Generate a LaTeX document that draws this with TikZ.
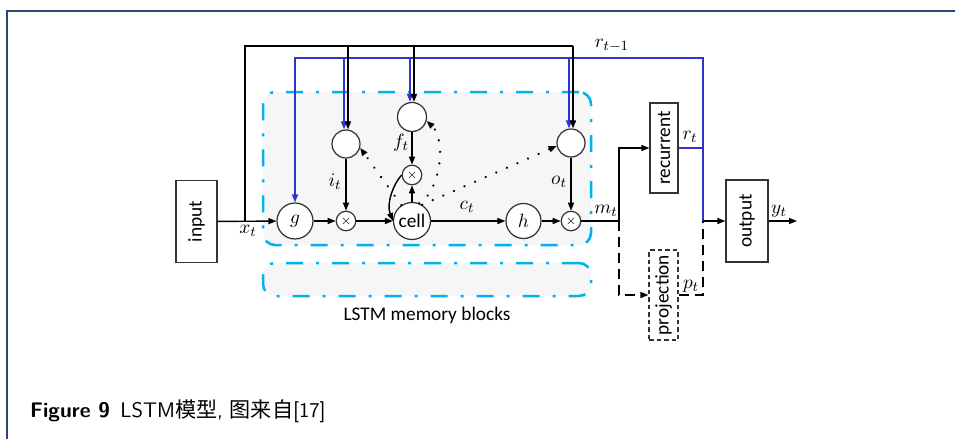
\documentclass[tikz,border=0pt]{standalone}
\usepackage{fontspec}
\usepackage{graphicx}
\usetikzlibrary{arrows.meta,positioning,calc}
\newfontfamily\cjk{Noto Sans CJK SC}
\newfontfamily\carlito{Carlito}
\definecolor{blockcyan}{RGB}{0,176,240}
\definecolor{blockgray}{RGB}{246,246,246}
\definecolor{feedblue}{RGB}{51,51,204}
\definecolor{frameblue}{RGB}{40,70,120}

\begin{document}
\begin{tikzpicture}[x=0.2mm,y=-0.2mm,
  every node/.style={font=\carlito\fontsize{11}{13}\selectfont},
  unit/.style={circle,draw=black!80,fill=white,line width=0.7pt,minimum size=7.2mm,inner sep=0pt},
  gate/.style={circle,draw=black!80,fill=white,line width=0.7pt,minimum size=5.6mm,inner sep=0pt},
  mult/.style={circle,draw=black!80,fill=white,line width=0.7pt,minimum size=3.9mm,inner sep=0pt,
               font=\scriptsize},
  layer/.style={rectangle,draw=black!80,fill=white,line width=0.7pt,minimum width=8.2mm,
                minimum height=16.4mm,inner sep=0pt},
  thin_layer/.style={layer,minimum width=5.6mm,minimum height=18mm},
  block/.style={rectangle,rounded corners=2.4mm,draw=blockcyan,fill=blockgray,line width=0.5mm,
                dash pattern=on 3.4mm off 2.6mm on 0.6mm off 2.6mm,minimum width=65.6mm},
  arrow/.style={-{Triangle[length=1.6mm,width=1.2mm]},line width=0.8pt},
  wire/.style={line width=0.8pt},
  blue_arrow/.style={arrow,feedblue},
  blue_wire/.style={wire,feedblue},
  dashed_arrow/.style={arrow,dash pattern=on 2mm off 1.2mm},
  dashed_wire/.style={wire,dash pattern=on 2mm off 1.2mm},
  peephole/.style={-{Triangle[length=1.6mm,width=1.2mm]},line width=0.5mm,
                   dash pattern=on 0.01mm off 2.3mm,line cap=round},
]
\useasboundingbox (0,0) rectangle (955,439);

% Page frame
\draw[frameblue,line width=0.4mm] (7,439) -- (7,11) -- (955,11);

% Memory blocks
\node[block,minimum height=30.6mm] (blocka) at (427,168.5) {};
\node[block,minimum height=6.6mm]  (blockb) at (427,279.5) {};
\node (blocklabel) at (427,315) {LSTM memory blocks};

% Layers
\node[layer] (input)  at (196.5,221.5) {\rotatebox{90}{input}};
\node[layer,minimum width=8.4mm] (output) at (747,221) {\rotatebox{90}{output}};
\node[thin_layer] (recurrent) at (664,148) {\rotatebox{90}{recurrent}};
\node[thin_layer,dash pattern=on 0.9mm off 0.6mm,minimum width=5.8mm]
      (projection) at (663.5,295) {\rotatebox{90}{projection}};

% Cell units
\node[unit] (g)    at (295,221) {$g$};
\node[mult] (mi)   at (346,221) {$\times$};
\node[unit,minimum size=7.4mm] (cell) at (412,221) {cell};
\node[unit,minimum size=7mm]   (h)    at (523.5,221) {$h$};
\node[mult] (mo)   at (571,221) {$\times$};

% Gates
\node[gate] (gi) at (346,144) {};
\node[gate,minimum size=5.8mm] (gf) at (412,117) {};
\node[mult] (mf) at (412,175) {$\times$};
\node[gate] (go) at (571,143) {};

% Corners of the wires
\coordinate (xt)    at (245,221);
\coordinate (ktl)   at (245,46);
\coordinate (ktr)   at (573,46);
\coordinate (btl)   at (295,58);
\coordinate (btr)   at (703,58);
\coordinate (rt)    at (703,148);
\coordinate (merge) at (703,221);
\coordinate (mt)    at (619,221);
\coordinate (yend)  at (797,221);

% Recurrent feedback r_{t-1}
\draw[blue_arrow] (recurrent.east) -- (rt) -- (btr) -- (btl) -- (g);
\draw[blue_wire] (rt) -- (merge);
\draw[blue_arrow] ([xshift=-0.4mm]gi.north |- btl) -- ([xshift=-0.4mm]gi.north);
\draw[blue_arrow] ([xshift=-0.4mm]gf.north |- btl) -- ([xshift=-0.4mm]gf.north);
\draw[blue_arrow] ([xshift=-0.4mm]go.north |- btl) -- ([xshift=-0.4mm]go.north);

% Input x_t to the gates
\draw[wire] (xt) -- (ktl) -- (ktr);
\draw[arrow] (ktr) -- (ktr |- go.north);
\draw[arrow] ([xshift=0.4mm]gi.north |- ktl) -- ([xshift=0.4mm]gi.north);
\draw[arrow] ([xshift=0.4mm]gf.north |- ktl) -- ([xshift=0.4mm]gf.north);

% Main path
\draw[arrow] (input) -- (g);
\draw[arrow] (g) -- (mi);
\draw[arrow] (mi) -- (cell);
\draw[arrow] (cell) -- (h);
\draw[arrow] (h) -- (mo);
\draw[wire] (mo) -- (mt);
\draw[arrow] (mt) |- (recurrent);
\draw[dashed_arrow] (mt) |- (projection);
\draw[dashed_wire] (projection) -| (merge);
\draw[arrow] (merge) -- (output);
\draw[arrow] (output) -- (yend);

% Gate outputs
\draw[arrow] (gi) -- (mi);
\draw[arrow] (gf) -- (mf);
\draw[arrow] (cell) -- (mf);
\draw[arrow] (go) -- (mo);
\draw[arrow] (mf.west) .. controls (394,183) and (386,203) .. (cell.west);

% Peepholes
\draw[peephole] (cell.124) -- (gi.-15);
\draw[peephole] (cell.68) .. controls (440,192) and (447,140) .. (gf.-15);
\draw[peephole] (cell.58) -- (go.192);

% Labels
\node (xtl)   at (248,231) {$x_t$};
\node (itl)   at (335,182) {$i_t$};
\node (ftl)   at (401,143) {$f_t$};
\node (otl)   at (559,182) {$o_t$};
\node (ctl)   at (467,207) {$c_t$};
\node (mtl)   at (606,211) {$m_t$};
\node (rtl)   at (690,137) {$r_t$};
\node (rprev) at (612,46)  {$r_{t-1}$};
\node (ytl)   at (779,211) {$y_t$};
\node (ptl)   at (691,286) {$p_t$};

% Caption
\node[anchor=base west,font=\sffamily\fontsize{12}{14}\selectfont] (caption) at (24,417)
      {\textbf{Figure 9}\enskip LSTM{\cjk 模型}, {\cjk 图来自}[17]};

\end{tikzpicture}
\end{document}
